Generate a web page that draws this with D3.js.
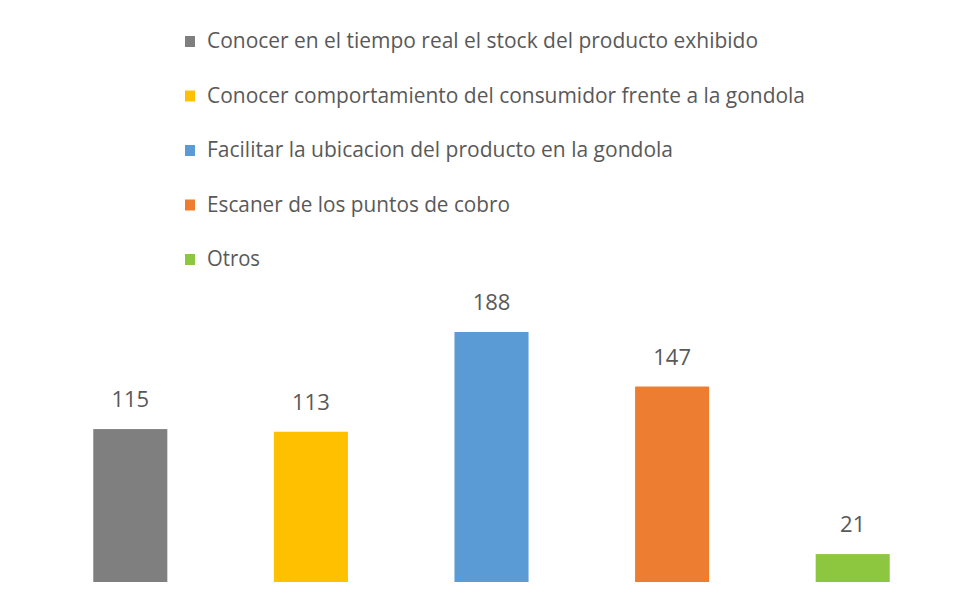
<!DOCTYPE html>
<html>
<head>
<meta charset="utf-8">
<script src="https://cdn.jsdelivr.net/npm/d3@7"></script>
<style>
  html, body { margin: 0; padding: 0; background: #fff; }
  svg { display: block; }
  text { font-family: "Liberation Sans Narrow", "Open Sans", "Liberation Sans", sans-serif; fill: #595959; }
</style>
</head>
<body>
<svg id="chart" width="966" height="611"></svg>
<script>
// Survey answers: uses of the technology in the store
const categories = [
  "Conocer en el tiempo real el stock del producto exhibido",
  "Conocer comportamiento del consumidor frente a la gondola",
  "Facilitar la ubicacion del producto en la gondola",
  "Escaner de los puntos de cobro",
  "Otros"
];
const values = [115, 113, 188, 147, 21];
const colors = ["#7f7f7f", "#ffc000", "#5b9bd5", "#ed7d31", "#8dc63f"];

const svg = d3.select("#chart");
const W = 966, H = 611;
const baseY = 582;

const x = d3.scaleBand()
  .domain(categories)
  .range([40, 943])
  .paddingInner(0.59)
  .paddingOuter(0.295);

const y = d3.scaleLinear()
  .domain([0, d3.max(values)])
  .range([baseY, 332]);

const data = categories.map((c, i) => ({ cat: c, value: values[i], color: colors[i] }));

// Legend (stacked rows above the plot)
const legendWidths = [551, 598, 466, 303, 53];
const legend = svg.append("g").attr("class", "legend");
const rows = legend.selectAll("g").data(data).join("g")
  .attr("transform", (d, i) => `translate(185, ${48 + i * 54.5})`);
rows.append("rect")
  .attr("x", 0).attr("y", -12)
  .attr("width", 10).attr("height", 11)
  .attr("fill", d => d.color);
rows.append("text")
  .attr("x", 22).attr("y", 0)
  .attr("font-size", 21)
  .attr("textLength", (d, i) => legendWidths[i])
  .attr("lengthAdjust", "spacingAndGlyphs")
  .text(d => d.cat);

// Bars
svg.append("g").selectAll("rect").data(data).join("rect")
  .attr("x", d => x(d.cat))
  .attr("width", x.bandwidth())
  .attr("y", d => y(d.value))
  .attr("height", d => baseY - y(d.value))
  .attr("fill", d => d.color);

// Value labels
svg.append("g").selectAll("text").data(data).join("text")
  .attr("x", d => x(d.cat) + x.bandwidth() / 2)
  .attr("y", d => y(d.value) - 22)
  .attr("text-anchor", "middle")
  .attr("font-size", 22)
  .text(d => d.value);
</script>
</body>
</html>
